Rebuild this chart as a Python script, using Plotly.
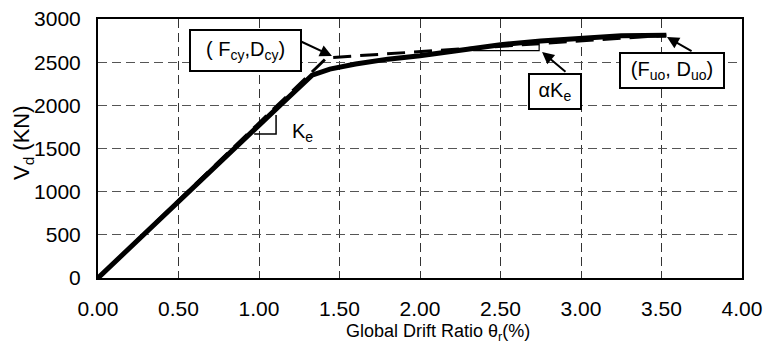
import plotly.graph_objects as go

# measured response (solid)
solid_drift = [0, 0.28, 0.57, 0.85, 1.13, 1.33, 1.44, 1.6, 1.8, 2.0, 2.25, 2.5, 2.75, 3.0, 3.25, 3.53]
solid_v = [0, 500, 1000, 1500, 2000, 2350, 2420, 2478, 2535, 2575, 2640, 2702, 2745, 2772, 2805, 2812]

# idealized bilinear (dashed)
bilin_drift = [0, 1.42, 3.53]
bilin_v = [0, 2550, 2812]

# slope indicators
ke_tri_x = [0.97, 1.106, 1.106]
ke_tri_y = [1668, 1668, 1888]
ak_tri_x = [2.33, 2.74, 2.74]
ak_tri_y = [2633, 2633, 2700]

x_ticks = [0, 0.5, 1.0, 1.5, 2.0, 2.5, 3.0, 3.5, 4.0]
y_ticks = [0, 500, 1000, 1500, 2000, 2500, 3000]

FONT = "Liberation Sans, Arial, sans-serif"

fig = go.Figure()
fig.add_trace(go.Scatter(x=ke_tri_x, y=ke_tri_y, mode="lines",
                         line=dict(color="black", width=1.5), hoverinfo="skip"))
fig.add_trace(go.Scatter(x=ak_tri_x, y=ak_tri_y, mode="lines",
                         line=dict(color="black", width=1.2), hoverinfo="skip"))
fig.add_trace(go.Scatter(x=solid_drift, y=solid_v, mode="lines",
                         line=dict(color="black", width=5)))
fig.add_trace(go.Scatter(x=bilin_drift, y=bilin_v, mode="lines",
                         line=dict(color="black", width=3, dash="18px,9px")))

def box(text, x, y, w, h):
    fig.add_annotation(x=x, y=y, xref="x", yref="y", text=text, showarrow=False,
                       font=dict(family=FONT, size=20, color="black"),
                       bordercolor="black", borderwidth=2, borderpad=0,
                       bgcolor="white", width=w - 4, height=h - 4,
                       xanchor="center", yanchor="middle")

def arrow(hx, hy, tx, ty):
    fig.add_annotation(x=hx, y=hy, ax=tx, ay=ty, xref="x", yref="y",
                       axref="x", ayref="y", text="", showarrow=True,
                       arrowhead=2, arrowsize=1.2, arrowwidth=2, arrowcolor="black")

box("( F<sub>cy</sub>,D<sub>cy</sub>)", 0.916, 2635, 113, 43)
arrow(1.453, 2571, 1.255, 2745)
box("αK<sub>e</sub>", 2.839, 2160, 54, 37)
arrow(2.758, 2618, 2.913, 2375)
box("(F<sub>uo</sub>, D<sub>uo</sub>)", 3.565, 2403, 106, 37)
arrow(3.534, 2791, 3.696, 2618)

fig.add_annotation(x=1.27, y=1691, xref="x", yref="y", text="K<sub>e</sub>",
                   showarrow=False, font=dict(family=FONT, size=20, color="black"))

fig.add_annotation(x=0.528, y=-0.21, xref="paper", yref="paper",
                   text="Global Drift Ratio θ<sub>r</sub>(%)", showarrow=False,
                   font=dict(family=FONT, size=18, color="black"),
                   xanchor="center", yanchor="middle")
fig.add_annotation(x=-0.1165, y=0.525, xref="paper", yref="paper",
                   text="V<sub>d</sub> (KN)", showarrow=False, textangle=-90,
                   font=dict(family=FONT, size=22, color="black"),
                   xanchor="center", yanchor="middle")

fig.update_layout(
    width=764, height=356,
    margin=dict(l=98, r=22, t=19, b=78, autoexpand=False),
    plot_bgcolor="white", paper_bgcolor="white",
    showlegend=False,
    font=dict(family=FONT, size=21, color="black"),
)
fig.update_xaxes(range=[0, 4], tickvals=x_ticks, tickformat=".2f", automargin=False,
                 showline=True, linecolor="black", linewidth=2, mirror=True,
                 showgrid=True, gridcolor="#333", gridwidth=1, griddash="9px,5px",
                 zeroline=False, ticks="", ticklabelstandoff=11, ticklabeloverflow="allow")
fig.update_yaxes(range=[0, 3000], tickvals=y_ticks, automargin=False,
                 showline=True, linecolor="black", linewidth=2, mirror=True,
                 showgrid=True, gridcolor="#555", gridwidth=1, griddash="9px,5px",
                 zeroline=False, ticks="", ticklabelstandoff=11, ticklabeloverflow="allow")

fig.write_html("out.html", config={"displayModeBar": False},
               post_script="document.body.style.margin='0';document.body.style.overflow='hidden';")
